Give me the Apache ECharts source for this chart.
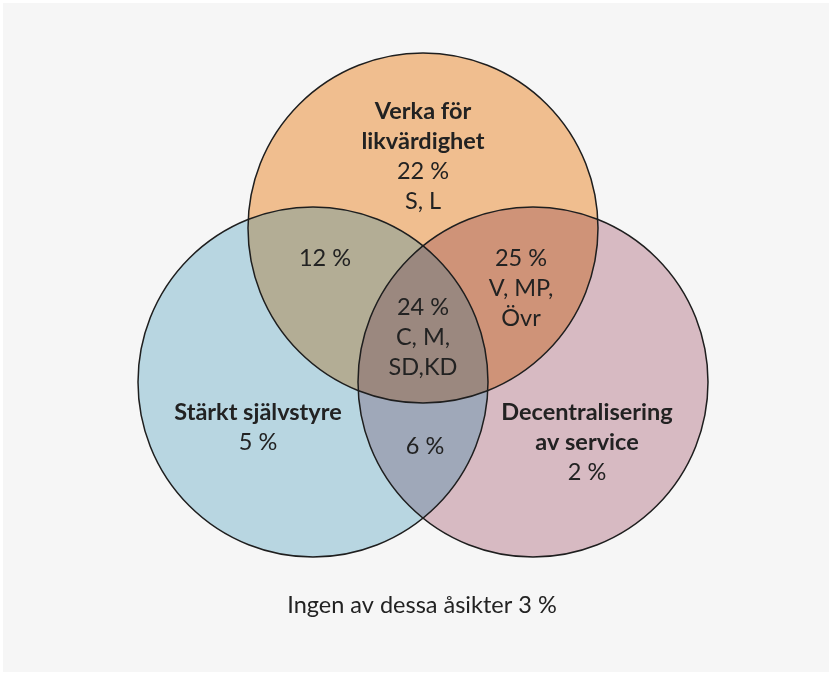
<!DOCTYPE html>
<html>
<head>
<meta charset="utf-8">
<script src="https://cdn.jsdelivr.net/npm/echarts@6/dist/echarts.min.js"></script>
<style>
html,body{margin:0;padding:0;background:#fff;}
#chart{width:829px;height:673px;}
</style>
</head>
<body>
<div id="chart"></div>
<script>
// ---- data ----
const setNames = ['Verka för likvärdighet', 'Stärkt självstyre', 'Decentralisering av service'];
const setNameLines = [['Verka för', 'likvärdighet'], ['Stärkt självstyre'], ['Decentralisering', 'av service']];
const regionKeys = ['T', 'L', 'R', 'TL', 'TR', 'LR', 'TLR'];
const regionPct = [22, 5, 2, 12, 25, 6, 24];
const regionParties = [['S, L'], [], [], [], ['V, MP,', 'Övr'], [], ['C, M,', 'SD,KD']];
const noneLabel = 'Ingen av dessa åsikter';
const nonePct = 3;

// ---- layout (data-space coordinates, identical to pixels) ----
const circleCenters = [[423, 228], [313, 382], [533, 382]];
const circleRadius = 175;
const regionLabelPos = [[423, 156], [258, 427], [587, 442], [325, 258], [521, 288], [425, 446], [423, 337]];
const noneLabelPos = [422, 605];

// ---- styles ----
const circleColors = ['#F0BE8F', '#B8D6E1', '#D7BAC2'];
const lensColors = { TL: '#B3AD95', TR: '#CF9378', LR: '#9FA8B9' };
const centerColor = '#9B887F';
const lineColor = '#1e1e1e';
const textColor = '#222222';
const FONT = 'Lato, "Noto Sans", sans-serif';
const FS = 23.5;

function inter(a, b, r) {
  const dx = b[0] - a[0], dy = b[1] - a[1];
  const d = Math.hypot(dx, dy);
  const h = Math.sqrt(r * r - (d / 2) * (d / 2));
  const mx = (a[0] + b[0]) / 2, my = (a[1] + b[1]) / 2;
  const ux = -dy / d, uy = dx / d;
  return [[mx + ux * h, my + uy * h], [mx - ux * h, my - uy * h]];
}
function arc(from, to, c, r) {
  const cr = (from[0] - c[0]) * (to[1] - c[1]) - (from[1] - c[1]) * (to[0] - c[0]);
  return ' A ' + r + ' ' + r + ' 0 0 ' + (cr > 0 ? 1 : 0) + ' ' + to[0] + ' ' + to[1];
}
function inside(p, c, r) { return Math.hypot(p[0] - c[0], p[1] - c[1]) < r + 0.01; }

function renderRegions(params, api) {
  const C = circleCenters.map(c => api.coord(c));
  const r = api.size([circleRadius, 0])[0];
  const children = [];
  C.forEach((c, i) => {
    children.push({ type: 'circle', shape: { cx: c[0], cy: c[1], r: r }, style: { fill: circleColors[i] } });
  });
  const pairs = { TL: [0, 1, 2], TR: [0, 2, 1], LR: [1, 2, 0] };
  const inner = {};
  Object.keys(pairs).forEach(k => {
    const [a, b, o] = pairs[k];
    const [p, q] = inter(C[a], C[b], r);
    const d = 'M ' + p[0] + ' ' + p[1] + arc(p, q, C[a], r) + arc(q, p, C[b], r) + ' Z';
    children.push({ type: 'path', shape: { pathData: d }, style: { fill: lensColors[k] } });
    inner[k] = inside(p, C[o], r) ? p : q;
  });
  const v1 = inner.TL, v2 = inner.TR, v3 = inner.LR;
  const dc = 'M ' + v1[0] + ' ' + v1[1] + arc(v1, v2, C[0], r) + arc(v2, v3, C[2], r) + arc(v3, v1, C[1], r) + ' Z';
  children.push({ type: 'path', shape: { pathData: dc }, style: { fill: centerColor } });
  C.forEach(c => {
    children.push({ type: 'circle', shape: { cx: c[0], cy: c[1], r: r }, style: { fill: null, stroke: lineColor, lineWidth: 1.5 } });
  });
  return { type: 'group', children: children };
}

function labelText(i) {
  const parts = [];
  if (i < 3) setNameLines[i].forEach(s => parts.push('{b|' + s + '}'));
  parts.push('{n|' + regionPct[i] + ' %}');
  regionParties[i].forEach(s => parts.push('{n|' + s + '}'));
  return parts.join('\n');
}

function renderLabels(params, api) {
  const i = api.value(2);
  const p = api.coord([api.value(0), api.value(1)]);
  const text = i < 0 ? '{n|' + noneLabel + ' ' + nonePct + ' %}' : labelText(i);
  return {
    type: 'text',
    style: {
      x: p[0], y: p[1], text: text, align: 'center', verticalAlign: 'middle',
      rich: {
        b: { fontFamily: FONT, fontSize: FS, fontWeight: 'bold', lineHeight: 30, fill: textColor, color: textColor },
        n: { fontFamily: FONT, fontSize: FS, fontWeight: 'normal', lineHeight: 30, fill: textColor, color: textColor }
      }
    }
  };
}

const labelData = regionLabelPos.map((p, i) => [p[0], p[1], i]);
labelData.push([noneLabelPos[0], noneLabelPos[1], -1]);

const chart = echarts.init(document.getElementById('chart'), null, { renderer: 'canvas' });
chart.setOption({
  backgroundColor: '#ffffff',
  animation: false,
  graphic: [{ type: 'rect', shape: { x: 3, y: 3, width: 826, height: 669 }, style: { fill: '#f6f6f6' }, z: -10 }],
  grid: { left: 0, right: 0, top: 0, bottom: 0 },
  xAxis: { type: 'value', min: 0, max: 829, show: false },
  yAxis: { type: 'value', min: 0, max: 673, inverse: true, show: false },
  series: [
    { type: 'custom', name: setNames.join(' / '), data: [[0, 0]], renderItem: renderRegions, silent: true, clip: false, z: 1 },
    { type: 'custom', name: 'labels', data: labelData, renderItem: renderLabels, silent: true, clip: false, z: 2 }
  ]
});
</script>
</body>
</html>
